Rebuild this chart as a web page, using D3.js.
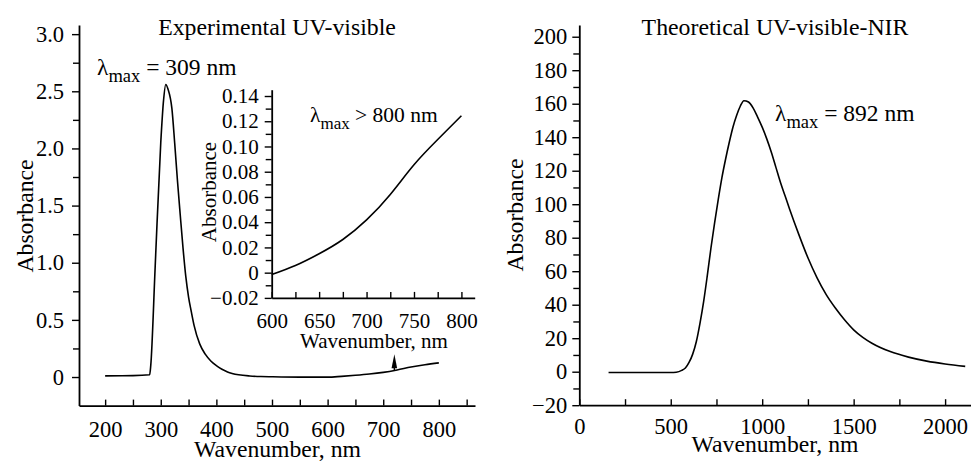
<!DOCTYPE html>
<html><head><meta charset="utf-8">
<script src="https://cdn.jsdelivr.net/npm/d3@7"></script>
<style>
html,body{margin:0;padding:0;background:#fff;}
svg text{font-family:"Liberation Serif","Times New Roman",serif;fill:#000;}
</style></head>
<body><svg id="c" width="971" height="465"></svg>
<script>
// ---------- data ----------
const expWave = [200,250,280,282,290,300,305,309,313,320,325,330,335,340,345,350,355,360,370,380,390,400,410,420,440,460,480,500,550,600,625,650,675,700,725,750,775,800];
const expAbs  = [0.01,0.012,0.02,0.1,0.97,2.05,2.42,2.56,2.52,2.35,2.05,1.72,1.42,1.13,0.88,0.70,0.57,0.45,0.29,0.20,0.14,0.10,0.068,0.045,0.02,0.009,0.004,0.002,-0.001,-0.001,0.006,0.015,0.026,0.041,0.062,0.087,0.107,0.124];

const insetWave = [600,625,650,675,700,725,750,775,800];
const insetAbs  = [-0.0015,0.0057,0.015,0.0263,0.0418,0.062,0.0855,0.1055,0.1244];

const theoWave = [160,300,400,500,530,560,580,600,620,640,660,680,700,720,740,760,780,800,820,840,860,880,900,925,950,975,1000,1025,1050,1075,1100,1125,1150,1200,1250,1300,1350,1400,1450,1500,1550,1600,1700,1800,1900,2000,2110];
const theoAbs  = [-0.5,-0.5,-0.5,-0.5,-0.3,0.8,2.2,5.5,10.5,18,29,42,57.5,74,89,103,116,127,137,146,153,158.5,161.8,161,157.5,152,146,139,131,122,113,105,97,82,68,56,46,38,31,25,20.5,17,12,8.7,6.3,4.6,3.2];

const expXTicks = [200,300,400,500,600,700,800];
const expXMinor = [250,350,450,550,650,750,850];
const expYTicks = [0,0.5,1.0,1.5,2.0,2.5,3.0];
const expYLabels = ["0","0.5","1.0","1.5","2.0","2.5","3.0"];
const expYMinor = [0.25,0.75,1.25,1.75,2.25,2.75];

const insetXTicks = [600,650,700,750,800];
const insetXMinor = [625,675,725,775];
const insetYTicks = [-0.02,0,0.02,0.04,0.06,0.08,0.10,0.12,0.14];
const insetYLabels = ["\u22120.02","0","0.02","0.04","0.06","0.08","0.10","0.12","0.14"];
const insetYMinor = [-0.01,0.01,0.03,0.05,0.07,0.09,0.11,0.13];

const theoXTicks = [0,500,1000,1500,2000];
const theoXMinor = [250,750,1250,1750];
const theoYTicks = [-20,0,20,40,60,80,100,120,140,160,180,200];
const theoYLabels = ["\u221220","0","20","40","60","80","100","120","140","160","180","200"];
const theoYMinor = [-10,10,30,50,70,90,110,130,150,170,190];

const arrowWave = 720;

// ---------- drawing ----------
const svg = d3.select("#c");

function drawAxes(g, x, y, o){
  const fs = o.fs;
  const bx = g.append("g").attr("transform",`translate(0,${y.range()[0]})`)
    .call(d3.axisBottom(x).tickValues(o.xt).tickFormat(d=>String(d)).tickSizeInner(-6).tickSizeOuter(0).tickPadding(o.xpad));
  const bxm = g.append("g").attr("transform",`translate(0,${y.range()[0]})`)
    .call(d3.axisBottom(x).tickValues(o.xm).tickFormat("").tickSizeInner(-6).tickSizeOuter(0));
  bxm.select(".domain").remove();
  const ly = g.append("g").attr("transform",`translate(${x.range()[0]},0)`)
    .call(d3.axisLeft(y).tickValues(o.yt).tickFormat((d,i)=>o.yl[i]).tickSizeInner(7).tickSizeOuter(0).tickPadding(o.ypad));
  const lym = g.append("g").attr("transform",`translate(${x.range()[0]},0)`)
    .call(d3.axisLeft(y).tickValues(o.ym).tickFormat("").tickSizeInner(6).tickSizeOuter(0));
  lym.select(".domain").remove();
  [bx,bxm,ly,lym].forEach(a=>{
    a.attr("font-family",null).attr("font-size",null);
    a.selectAll("path.domain").attr("stroke","#000").attr("stroke-width",1.8);
    a.selectAll(".tick line").attr("stroke","#000").attr("stroke-width",1.4);
    a.selectAll("text").attr("font-size",fs).attr("fill","#000");
  });
  g.append("text").attr("x",o.xTitleX).attr("y",o.xTitleY)
    .attr("text-anchor","middle").attr("font-size",o.tfs).text("Wavenumber, nm");
  g.append("text").attr("transform",`translate(${o.yTitleX},${o.yTitleCY}) rotate(-90)`)
    .attr("text-anchor","middle").attr("font-size",o.tfs).text("Absorbance");
}

function lambdaLabel(x0,y0,fs,sfs,rest){
  const t = svg.append("text").attr("x",x0).attr("y",y0).attr("font-size",fs);
  t.append("tspan").text("\u03bb");
  t.append("tspan").attr("font-size",sfs).attr("dy",7).text("max");
  t.append("tspan").attr("dy",-7).text(rest);
}

// ----- left panel -----
const xL = d3.scaleLinear().domain([153,865]).range([79,475]);
const yL = d3.scaleLinear().domain([-0.25,3.08]).range([405.6,25]);
const gL = svg.append("g");
drawAxes(gL,xL,yL,{xt:expXTicks,xm:expXMinor,yt:expYTicks,yl:expYLabels,ym:expYMinor,fs:22.5,tfs:23.7,xpad:15,ypad:8,xTitleX:277.5,xTitleY:456.5,yTitleX:33,yTitleCY:216});
const lineL = d3.line().x(d=>xL(d[0])).y(d=>yL(d[1])).curve(d3.curveMonotoneX);
gL.append("path").datum(d3.zip(expWave,expAbs)).attr("d",lineL)
  .attr("fill","none").attr("stroke","#000").attr("stroke-width",1.6);
svg.append("text").attr("x",277).attr("y",35).attr("text-anchor","middle").attr("font-size",23.8).text("Experimental UV-visible");
lambdaLabel(97,75,23.5,18.5," = 309 nm");

// ----- inset -----
const xI = d3.scaleLinear().domain([600,814]).range([271.7,474.7]);
const yI = d3.scaleLinear().domain([-0.02,0.145]).range([297.9,89.7]);
const gI = svg.append("g");
drawAxes(gI,xI,yI,{xt:insetXTicks,xm:insetXMinor,yt:insetYTicks,yl:insetYLabels,ym:insetYMinor,fs:21,tfs:21,xpad:15,ypad:6,xTitleX:374,xTitleY:348,yTitleX:216,yTitleCY:192});
const lineI = d3.line().x(d=>xI(d[0])).y(d=>yI(d[1])).curve(d3.curveNatural);
gI.append("path").datum(d3.zip(insetWave,insetAbs)).attr("d",lineI)
  .attr("fill","none").attr("stroke","#000").attr("stroke-width",1.6);
lambdaLabel(310,121.5,21.5,17," > 800 nm");

// arrow from main curve up to inset label
const ax = xL(arrowWave);
const ay0 = yL(d3.interpolateNumber(0.041,0.062)((arrowWave-700)/25));
const ay1 = yL(0.2);
svg.append("line").attr("x1",ax).attr("x2",ax).attr("y1",ay0).attr("y2",ay1+10)
  .attr("stroke","#000").attr("stroke-width",1.4);
svg.append("path").attr("d",`M${ax},${ay1} L${ax-2.8},${ay1+14} L${ax+2.8},${ay1+14} Z`).attr("fill","#000");

// ----- right panel -----
const xR = d3.scaleLinear().domain([0,2140]).range([579.3,970.7]);
const yR = d3.scaleLinear().domain([-20,207]).range([405.2,25]);
const gR = svg.append("g");
drawAxes(gR,xR,yR,{xt:theoXTicks,xm:theoXMinor,yt:theoYTicks,yl:theoYLabels,ym:theoYMinor,fs:22.5,tfs:23.7,xpad:13,ypad:5,xTitleX:775,xTitleY:452,yTitleX:523,yTitleCY:215});
const lineR = d3.line().x(d=>xR(d[0])).y(d=>yR(d[1])).curve(d3.curveMonotoneX);
gR.append("path").datum(d3.zip(theoWave,theoAbs)).attr("d",lineR)
  .attr("fill","none").attr("stroke","#000").attr("stroke-width",1.6);
svg.append("text").attr("x",775).attr("y",35).attr("text-anchor","middle").attr("font-size",23.8).text("Theoretical UV-visible-NIR");
lambdaLabel(775,120.5,23.5,18.5," = 892 nm");
</script></body></html>
